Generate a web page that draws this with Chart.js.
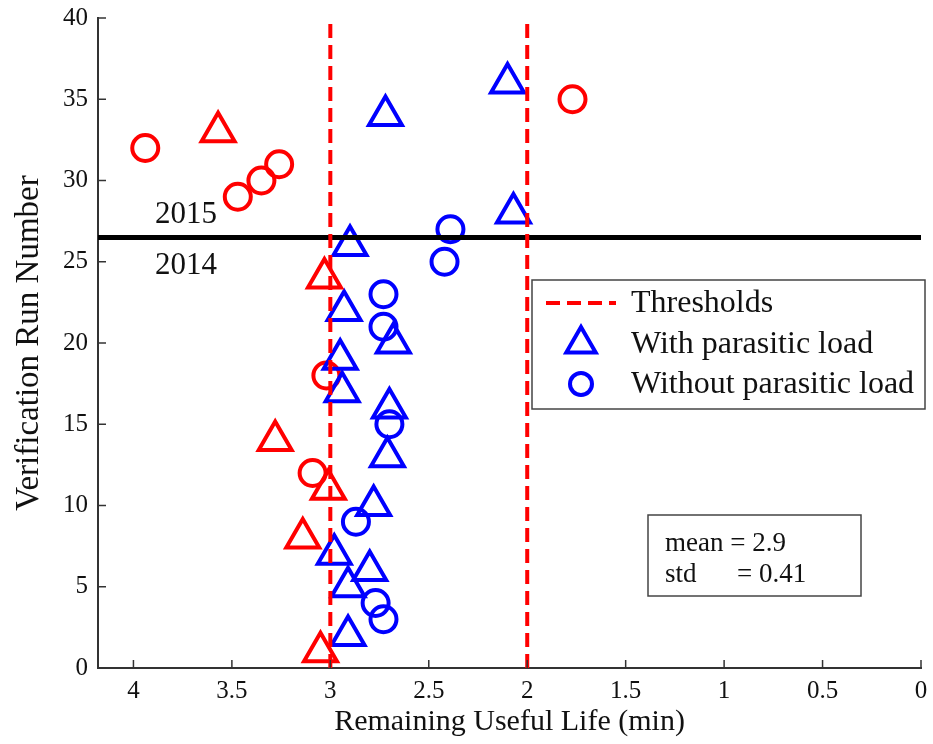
<!DOCTYPE html>
<html>
<head>
<meta charset="utf-8">
<script src="https://cdn.jsdelivr.net/npm/chart.js@4"></script>
<style>
  html, body { margin: 0; padding: 0; background: #fff; }
  #wrap { width: 933px; height: 744px; }
</style>
</head>
<body>
<div id="wrap"><canvas id="rulChart" width="933" height="744"></canvas></div>
<script>
// --- data ---
const thresholds = [3, 2];
const yearSplit = 26.5;

// with parasitic load (triangles)
const redTriRuns = [1, 8, 11, 14, 24, 33];
const redTriRul  = [3.05, 3.14, 3.01, 3.28, 3.03, 3.57];
const blueTriRuns = [2, 5, 6, 7, 10, 13, 16, 17, 19, 20, 22, 26, 28, 34, 36];
const blueTriRul  = [2.91, 2.91, 2.80, 2.98, 2.78, 2.71, 2.70, 2.94, 2.95, 2.68, 2.93, 2.90, 2.07, 2.72, 2.10];

// without parasitic load (circles)
const redCircRuns = [12, 18, 29, 30, 31, 32, 35];
const redCircRul  = [3.09, 3.02, 3.47, 3.35, 3.26, 3.94, 1.77];
const blueCircRuns = [3, 4, 9, 15, 21, 23, 25, 27];
const blueCircRul  = [2.73, 2.77, 2.87, 2.70, 2.73, 2.73, 2.42, 2.39];

const legendLabels = ['Thresholds', 'With parasitic load', 'Without parasitic load'];
const statLines = ['mean = 2.9', 'std', '= 0.41'];

const RED = '#ff0000';
const BLUE = '#0000ff';
const FONT = "'Liberation Serif', 'Times New Roman', serif";

function pts(xs, ys) {
    return xs.map((x, i) => ({ x: x, y: ys[i] }));
}

// threshold lines joined in one dataset with a gap in between
let threshData = [];
thresholds.forEach((t, i) => {
    if (i > 0) threshData.push({ x: t, y: null });
    threshData.push({ x: t, y: 0 }, { x: t, y: 40 });
});

// inward ticks, legend box, stats box, year labels
const extras = {
    id: 'extras',
    afterDraw(chart) {
        const ctx = chart.ctx;
        const xs = chart.scales.x, ys = chart.scales.y;
        const area = chart.chartArea;
        ctx.save();

        // ticks pointing inside
        ctx.strokeStyle = '#333';
        ctx.lineWidth = 1.5;
        xs.ticks.forEach(t => {
            const px = xs.getPixelForValue(t.value);
            ctx.beginPath(); ctx.moveTo(px, area.bottom); ctx.lineTo(px, area.bottom - 8); ctx.stroke();
        });
        ys.ticks.forEach(t => {
            const py = ys.getPixelForValue(t.value);
            ctx.beginPath(); ctx.moveTo(area.left, py); ctx.lineTo(area.left + 8, py); ctx.stroke();
        });

        // year labels around the split line
        ctx.fillStyle = '#111';
        ctx.font = '31px ' + FONT;
        ctx.textAlign = 'left';
        ctx.textBaseline = 'alphabetic';
        const ySplit = ys.getPixelForValue(yearSplit);
        ctx.fillText('2015', 155, ySplit - 14);
        ctx.fillText('2014', 155, ySplit + 37);

        // legend
        const lx = 532, ly = 280, lw = 393, lh = 129;
        ctx.fillStyle = '#fff';
        ctx.fillRect(lx, ly, lw, lh);
        ctx.strokeStyle = '#444';
        ctx.lineWidth = 1.5;
        ctx.strokeRect(lx, ly, lw, lh);

        ctx.font = '32px ' + FONT;
        ctx.fillStyle = '#111';
        const rows = [303, 344, 384];
        ctx.textBaseline = 'middle';
        legendLabels.forEach((lab, i) => ctx.fillText(lab, 631, rows[i] + 1));

        ctx.strokeStyle = RED;
        ctx.lineWidth = 4;
        ctx.setLineDash([14, 7]);
        ctx.beginPath(); ctx.moveTo(546, rows[0]); ctx.lineTo(616, rows[0]); ctx.stroke();
        ctx.setLineDash([]);

        ctx.strokeStyle = BLUE;
        ctx.beginPath();
        ctx.moveTo(581, rows[1] - 17);
        ctx.lineTo(581 + 14.7, rows[1] + 8.5);
        ctx.lineTo(581 - 14.7, rows[1] + 8.5);
        ctx.closePath();
        ctx.stroke();
        ctx.beginPath(); ctx.arc(581, rows[2], 11, 0, Math.PI * 2); ctx.stroke();

        // stats box
        const sx = 648, sy = 515, sw = 213, sh = 81;
        ctx.fillStyle = '#fff';
        ctx.fillRect(sx, sy, sw, sh);
        ctx.strokeStyle = '#444';
        ctx.lineWidth = 1.5;
        ctx.strokeRect(sx, sy, sw, sh);
        ctx.fillStyle = '#111';
        ctx.font = '27px ' + FONT;
        ctx.fillText(statLines[0], 665, 544);
        ctx.fillText(statLines[1], 665, 575);
        ctx.fillText(statLines[2], 737, 575);

        ctx.restore();
    }
};

new Chart(document.getElementById('rulChart').getContext('2d'), {
    type: 'scatter',
    data: {
        datasets: [
            {
                label: 'Thresholds',
                type: 'line',
                data: threshData,
                borderColor: RED,
                borderWidth: 4,
                borderDash: [14, 7],
                pointRadius: 0,
                spanGaps: false,
                fill: false
            },
            {
                label: 'split',
                type: 'line',
                data: [{ x: 4.18, y: yearSplit }, { x: 0, y: yearSplit }],
                borderColor: '#000',
                borderWidth: 5,
                pointRadius: 0,
                fill: false
            },
            {
                label: 'With parasitic load (out)',
                data: pts(redTriRul, redTriRuns),
                pointStyle: 'triangle',
                pointRadius: 19,
                borderColor: RED,
                backgroundColor: 'rgba(0,0,0,0)',
                borderWidth: 4
            },
            {
                label: 'With parasitic load',
                data: pts(blueTriRul, blueTriRuns),
                pointStyle: 'triangle',
                pointRadius: 19,
                borderColor: BLUE,
                backgroundColor: 'rgba(0,0,0,0)',
                borderWidth: 4
            },
            {
                label: 'Without parasitic load (out)',
                data: pts(redCircRul, redCircRuns),
                pointStyle: 'circle',
                pointRadius: 13,
                borderColor: RED,
                backgroundColor: 'rgba(0,0,0,0)',
                borderWidth: 4
            },
            {
                label: 'Without parasitic load',
                data: pts(blueCircRul, blueCircRuns),
                pointStyle: 'circle',
                pointRadius: 13,
                borderColor: BLUE,
                backgroundColor: 'rgba(0,0,0,0)',
                borderWidth: 4
            }
        ]
    },
    options: {
        responsive: false,
        animation: false,
        layout: { autoPadding: false, padding: { left: 0, top: 18, right: 12, bottom: 0 } },
        plugins: {
            legend: { display: false },
            tooltip: { enabled: false }
        },
        scales: {
            x: {
                type: 'linear',
                reverse: true,
                min: 0,
                max: 4.18,
                grid: { display: false, drawTicks: false },
                border: { display: true, color: '#333', width: 2 },
                ticks: {
                    stepSize: 0.5,
                    includeBounds: false,
                    padding: 8,
                    color: '#111',
                    font: { family: FONT, size: 25 },
                    callback: v => String(Number(v.toFixed(2)))
                },
                title: {
                    display: true,
                    text: 'Remaining Useful Life (min)',
                    color: '#111',
                    font: { family: FONT, size: 30 },
                    padding: { top: 0, bottom: 4 }
                },
                afterFit: s => {
                    s.height = 76;
                    s.paddingLeft = 0;
                    s.paddingRight = 0;
                }
            },
            y: {
                type: 'linear',
                min: 0,
                max: 40,
                grid: { display: false, drawTicks: false },
                border: { display: true, color: '#333', width: 2 },
                ticks: {
                    stepSize: 5,
                    padding: 10,
                    color: '#111',
                    font: { family: FONT, size: 25 }
                },
                title: {
                    display: true,
                    text: 'Verification Run Number',
                    color: '#111',
                    font: { family: FONT, size: 33 },
                    padding: { top: 10, bottom: 0 }
                },
                afterFit: s => {
                    s.width = 98;
                    s.paddingTop = 0;
                    s.paddingBottom = 0;
                }
            }
        }
    },
    plugins: [extras]
});
</script>
</body>
</html>
